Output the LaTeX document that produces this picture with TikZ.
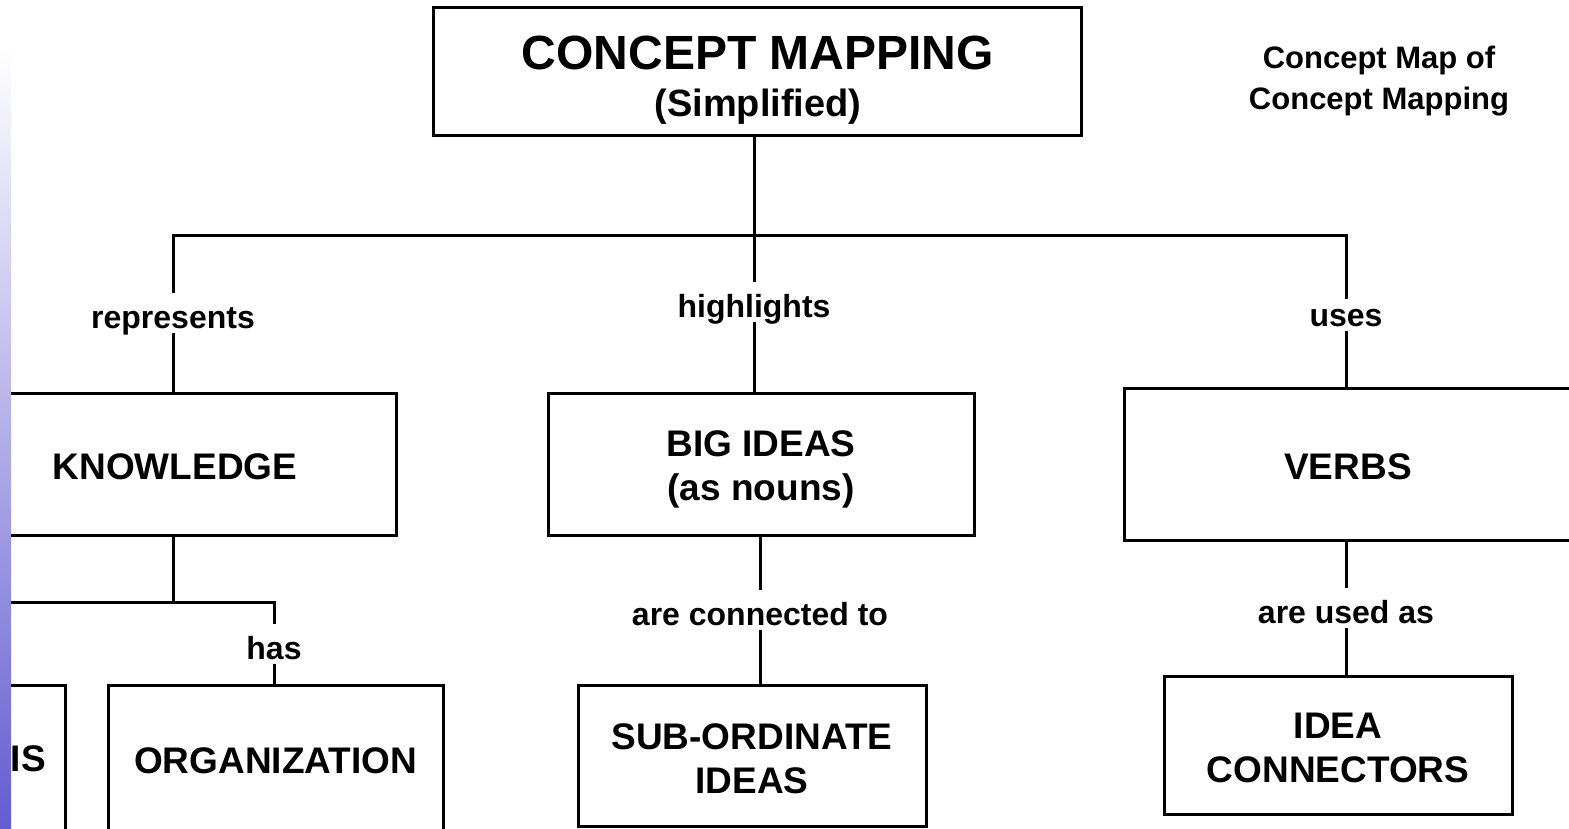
\documentclass[tikz,border=0pt]{standalone}
\usepackage{fontspec}
\setmainfont{Liberation Sans}
\definecolor{stripblue}{RGB}{100,92,210}
\newcommand\myup[1]{\rule{0pt}{#1}}
\begin{document}
\begin{tikzpicture}[x=1pt,y=-1pt,
  conn/.style={line width=3pt},
  box/.style={draw,line width=3pt,inner sep=0pt,align=center,font=\fontsize{37}{44}\selectfont\bfseries},
  lbl/.style={anchor=base,inner xsep=2pt,inner ysep=2pt,text height=33pt,text depth=3pt,font=\fontsize{32}{38}\selectfont\bfseries},
  plain/.style={inner sep=0pt,font=\bfseries}
]
\clip (0,0) rectangle (1569,829);
\fill[white] (0,0) rectangle (1569,829);

% boxes
\node[box,minimum width=648pt,minimum height=128pt] (top) at (757,72) {};
\node[plain,anchor=base,font=\fontsize{48}{50}\selectfont\bfseries] (title) at (758,70) {CONCEPT MAPPING};
\node[plain,anchor=base,font=\fontsize{38}{44}\selectfont\bfseries] (subtitle) at (758,117) {(Simplified)};
\node[plain,align=center,font=\fontsize{31}{41}\selectfont\bfseries] (caption) at (1379,81) {Concept Map of\\Concept Mapping};

\node[box,minimum width=442pt,minimum height=142pt] (know) at (175,464) {\myup{32pt}KNOWLEDGE};
\node[box,minimum width=426pt,minimum height=142pt] (big) at (761,464) {\myup{37pt}BIG IDEAS\\(as nouns)};
\node[box,minimum width=448pt,minimum height=152pt] (verbs) at (1348,464) {\myup{32pt}VERBS};
\node[box,minimum width=348pt,minimum height=141pt] (sub) at (752,755.5) {\myup{32pt}SUB-ORDINATE\\IDEAS};
\node[box,minimum width=348pt,minimum height=138pt] (idea) at (1338,745) {\myup{32pt}IDEA\\CONNECTORS};
\node[box,minimum width=335pt,minimum height=146pt] (org) at (275.5,758) {\myup{32pt}ORGANIZATION};
\node[box,minimum width=200pt,minimum height=146pt] (rel) at (-35,758) {};
\node[plain,anchor=base east,font=\fontsize{37}{44}\selectfont\bfseries] (relt) at (46,771) {IS};

% labels
\node[lbl] (rep) at (173,328) {represents};
\node[lbl] (hl) at (754,317) {highlights};
\node[lbl,text height=25pt] (uses) at (1346,326) {uses};
\node[lbl] (acon) at (760,625) {are connected to};
\node[lbl] (has) at (274,659) {has};
\node[lbl] (used) at (1346,623) {are used as};

% junctions
\coordinate (j) at (754,236);
\coordinate (jL) at (173,236);
\coordinate (jR) at (1346,236);
\coordinate (k) at (173,602);
\coordinate (kL) at (-20,602);
\coordinate (kR) at (274,602);

% connectors
\draw[conn] (j |- top.south) -- (j);
\draw[conn] (rep) -- (jL) -- (jR) -- (uses);
\draw[conn] (j) -- (hl);
\draw[conn] (rep) -- (rep |- know.north);
\draw[conn] (hl) -- (hl |- big.north);
\draw[conn] (uses) -- (uses |- verbs.north);
\draw[conn] (k |- know.south) -- (k);
\draw[conn] (kL) -- (kR) -- (has);
\draw[conn] (has) -- (has |- org.north);
\draw[conn] (acon |- big.south) -- (acon);
\draw[conn] (acon) -- (acon |- sub.north);
\draw[conn] (used |- verbs.south) -- (used);
\draw[conn] (used) -- (used |- idea.north);

% left strip
\shade[top color=white, bottom color=stripblue] (0,47) rectangle (11,829);
\end{tikzpicture}
\end{document}
